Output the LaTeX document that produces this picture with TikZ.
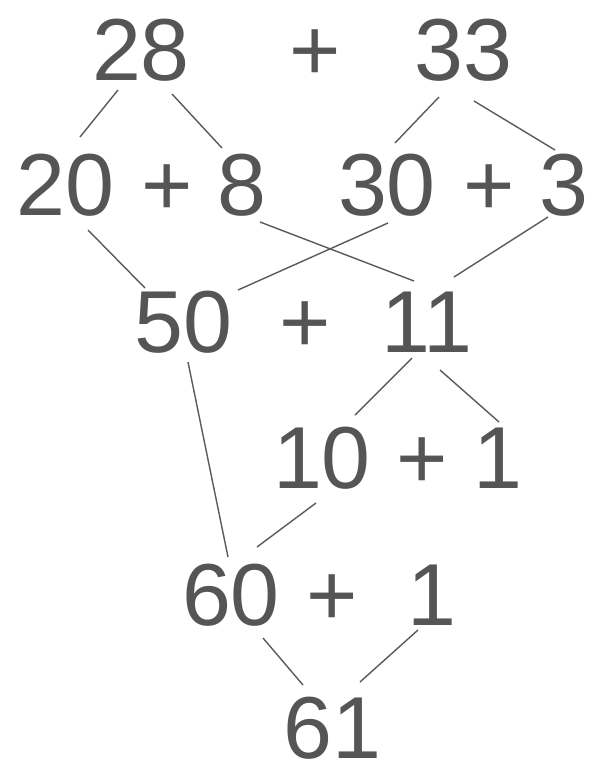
\documentclass[tikz,border=0pt]{standalone}
\usepackage{fontspec}
\setmainfont{Liberation Sans}
\definecolor{txtgray}{HTML}{555555}
\definecolor{linegray}{HTML}{5A5A5A}
\begin{document}
\begin{tikzpicture}[x=1pt,y=-1pt,
  num/.style={anchor=base,inner sep=0pt,text=txtgray,font=\fontsize{88}{88}\selectfont},
  conn/.style={draw=linegray,line width=1.4pt}]
\useasboundingbox[fill=white] (0,0) rectangle (592,763);
% row 1
\node[num] (n28) at (141,80) {28};
\node[num] (p1) at (315,80) {+};
\node[num] (n33) at (463.5,80) {33};
% row 2
\node[num] (n20) at (65.5,215) {20};
\node[num] (p2) at (167,215) {+};
\node[num] (n8) at (241.5,215) {8};
\node[num] (n30) at (387,215) {30};
\node[num] (p3) at (489,215) {+};
\node[num] (n3) at (563.5,215) {3};
% row 3
\node[num] (n50) at (183.5,352) {50};
\node[num] (p4) at (305,352) {+};
\node[num] (n11) at (427,352) {11};
% row 4
\node[num] (n10) at (322,488) {10};
\node[num] (p5) at (422,488) {+};
\node[num] (n1a) at (497.5,488) {1};
% row 5
\node[num] (n60) at (231,625) {60};
\node[num] (p6) at (332,625) {+};
\node[num] (n1b) at (431.5,625) {1};
% row 6
\node[num] (n61) at (332.5,758) {61};
% connector end points
\coordinate (n28-l) at (118,90);   \coordinate (n20-t) at (80,137);
\coordinate (n28-r) at (172,94);   \coordinate (n8-t) at (222,148);
\coordinate (n33-l) at (439,97);   \coordinate (n30-t) at (395,143);
\coordinate (n33-r) at (474,101);  \coordinate (n3-t) at (555,150);
\coordinate (n20-b) at (88,230);   \coordinate (n50-tl) at (145,288);
\coordinate (n8-b) at (260,222);   \coordinate (n11-tl) at (414,281);
\coordinate (n30-b) at (388,223);  \coordinate (n50-tr) at (238,290);
\coordinate (n3-b) at (548,217);   \coordinate (n11-tr) at (454,277);
\coordinate (n11-bl) at (412,358); \coordinate (n10-t) at (355,415);
\coordinate (n11-br) at (440,370); \coordinate (n1a-t) at (499,422);
\coordinate (n50-b) at (188,362);  \coordinate (n60-tl) at (228,557);
\coordinate (n10-b) at (316,503);  \coordinate (n60-tr) at (257,547);
\coordinate (n60-b) at (263,638);  \coordinate (n61-tl) at (303,685);
\coordinate (n1b-b) at (418,630);  \coordinate (n61-tr) at (360,682);
% connectors
\draw[conn] (n28-l) -- (n20-t);
\draw[conn] (n28-r) -- (n8-t);
\draw[conn] (n33-l) -- (n30-t);
\draw[conn] (n33-r) -- (n3-t);
\draw[conn] (n20-b) -- (n50-tl);
\draw[conn] (n8-b) -- (n11-tl);
\draw[conn] (n30-b) -- (n50-tr);
\draw[conn] (n3-b) -- (n11-tr);
\draw[conn] (n11-bl) -- (n10-t);
\draw[conn] (n11-br) -- (n1a-t);
\draw[conn] (n50-b) -- (n60-tl);
\draw[conn] (n10-b) -- (n60-tr);
\draw[conn] (n60-b) -- (n61-tl);
\draw[conn] (n1b-b) -- (n61-tr);
\end{tikzpicture}
\end{document}
